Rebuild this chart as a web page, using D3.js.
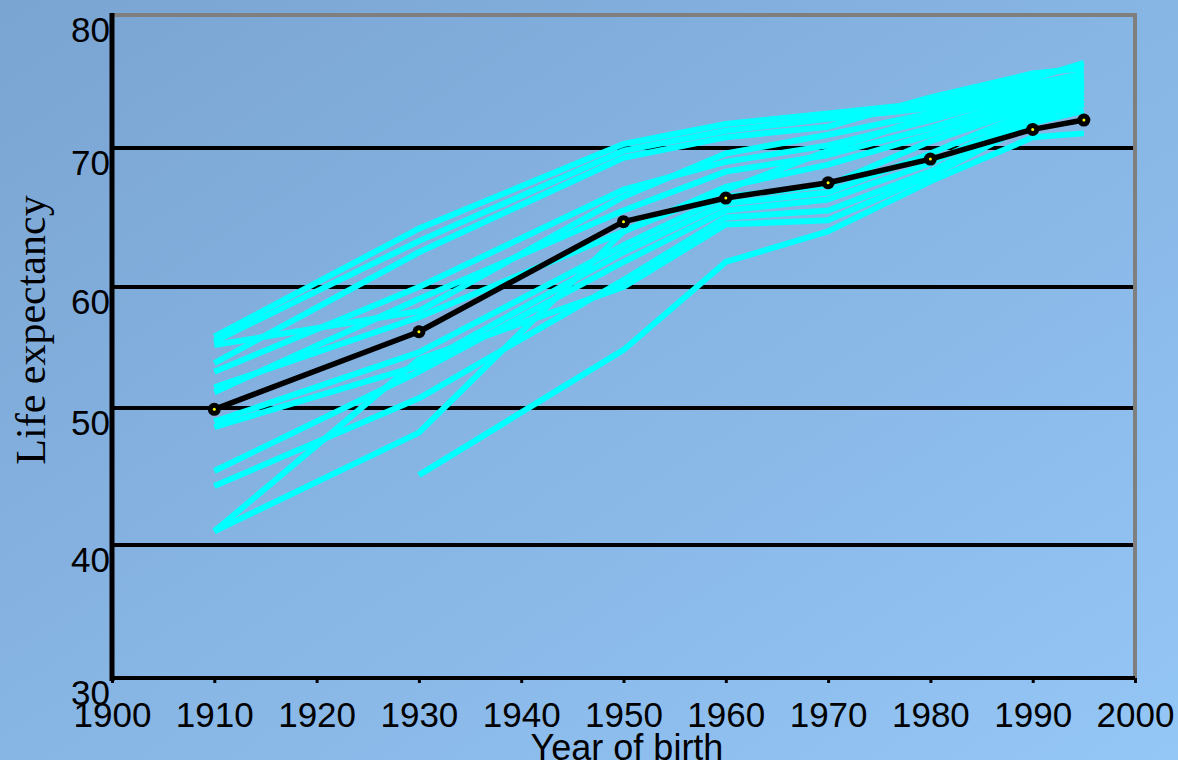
<!DOCTYPE html>
<html>
<head>
<meta charset="utf-8">
<script src="https://cdn.jsdelivr.net/npm/d3@7"></script>
<style>
  html, body { margin: 0; padding: 0; overflow: hidden; }
  svg { display: block; }
</style>
</head>
<body>
<svg id="chart" width="1178" height="760"></svg>
<script>
// ---- Data ----
const years = [1910, 1930, 1950, 1960, 1970, 1980, 1990, 1995];
const xTicks = [1900, 1910, 1920, 1930, 1940, 1950, 1960, 1970, 1980, 1990, 2000];
const yTicks = [30, 40, 50, 60, 70, 80];
const gridValues = [40, 50, 60, 70];

// Average (black) series
const averageSeries = [49.9, 56.3, 64.7, 66.4, 67.5, 69.2, 71.4, 72.1];

// Individual country series (cyan)
const countrySeries = [
  [55.9, 64.2, 70.3, 71.8, 72.6, 73.4, 75.2, 76.4],
  [55.5, 63.3, 69.8, 71.3, 72.2, 73.0, 74.8, 75.6],
  [53.7, 62.5, 69.3, 70.8, 71.6, 73.8, 75.6, 76.0],
  [55.2, 58.0, 66.5, 69.6, 71.0, 72.6, 74.5, 75.3],
  [53.0, 60.0, 67.0, 69.0, 70.2, 72.1, 74.2, 75.0],
  [51.3, 59.0, 65.5, 68.3, 69.5, 71.5, 73.9, 74.8],
  [51.7, 57.5, 64.0, 67.2, 68.8, 71.0, 73.5, 74.5],
  [49.0, 54.6, 63.0, 66.5, 67.3, 70.5, 73.1, 74.2],
  [48.6, 53.5, 62.5, 66.0, 66.8, 69.6, 72.8, 73.9],
  [45.4, 53.0, 61.8, 65.5, 66.3, 68.9, 72.5, 73.6],
  [44.3, 50.8, 60.5, 65.0, 65.5, 68.3, 72.1, 73.3],
  [41.0, 48.2, 64.0, 67.0, 69.8, 72.4, 74.0, 74.7],
  [41.0, 54.0, 60.0, 64.5, 64.8, 68.0, 71.9, 72.8],
  [null, 45.1, 54.8, 61.8, 64.0, 67.6, 70.8, 71.1]
];

const xTitle = "Year of birth";
const yTitle = "Life expectancy";

// ---- Layout ----
const svg = d3.select("#chart");
const W = 1178, H = 760;
const plotLeft = 112, plotRight = 1135, plotTop = 15, plotBottom = 678;

const defs = svg.append("defs");
const grad = defs.append("linearGradient")
  .attr("id", "bg").attr("x1", "0%").attr("y1", "0%").attr("x2", "100%").attr("y2", "100%");
grad.append("stop").attr("offset", "0%").attr("stop-color", "#7aa4d2");
grad.append("stop").attr("offset", "100%").attr("stop-color", "#94c6f6");
svg.append("rect").attr("width", W).attr("height", H).attr("fill", "url(#bg)");

const x = d3.scaleLinear().domain([1900, 2000]).range([plotLeft, plotRight]);
// The reference's gridlines are slightly unevenly spaced; follow them
const y = d3.scaleLinear().domain(yTicks).range([678, 545, 408, 287, 148, 15]);

// Gray frame (top and right)
svg.append("line").attr("x1", plotLeft).attr("x2", plotRight).attr("y1", y(80)).attr("y2", y(80))
  .attr("stroke", "#7f7f7f").attr("stroke-width", 4);
svg.append("line").attr("x1", plotRight).attr("x2", plotRight).attr("y1", y(80) - 2).attr("y2", plotBottom)
  .attr("stroke", "#7f7f7f").attr("stroke-width", 4);

// Gridlines
svg.append("g").selectAll("line").data(gridValues).join("line")
  .attr("x1", plotLeft).attr("x2", plotRight - 2)
  .attr("y1", d => y(d)).attr("y2", d => y(d))
  .attr("stroke", "#000").attr("stroke-width", 4);

// Cyan lines
const line = d3.line()
  .defined(d => d.v != null)
  .x(d => x(d.year)).y(d => y(d.v));

svg.append("g").selectAll("path").data(countrySeries).join("path")
  .attr("d", s => line(s.map((v, i) => ({ year: years[i], v }))))
  .attr("fill", "none").attr("stroke", "#00ffff").attr("stroke-width", 6)
  .attr("stroke-linejoin", "round");

// Average line
const avg = averageSeries.map((v, i) => ({ year: years[i], v }));
svg.append("path").attr("d", line(avg))
  .attr("fill", "none").attr("stroke", "#000").attr("stroke-width", 5.5)
  .attr("stroke-linejoin", "round");
svg.append("g").selectAll("circle").data(avg).join("circle")
  .attr("cx", d => x(d.year)).attr("cy", d => y(d.v)).attr("r", 6.5).attr("fill", "#000");
svg.append("g").selectAll("circle").data(avg).join("circle")
  .attr("cx", d => x(d.year)).attr("cy", d => y(d.v)).attr("r", 1.5).attr("fill", "#ffff00");

// Axes
const xAxis = d3.axisBottom(x).tickValues(xTicks).tickFormat(d3.format("d")).tickSize(5).tickPadding(8);
const gx = svg.append("g").attr("transform", `translate(0,${plotBottom})`).call(xAxis);
gx.select(".domain").remove();
gx.selectAll(".tick line").attr("stroke", "#000").attr("stroke-width", 3);
gx.selectAll(".tick text")
  .attr("y", 49).attr("dy", null)
  .attr("font-family", "'Liberation Sans', Arial, sans-serif").attr("font-size", 35).attr("fill", "#000");

const yAxis = d3.axisLeft(y).tickValues(yTicks).tickFormat(d3.format("d")).tickSize(0).tickPadding(3);
const gy = svg.append("g").attr("transform", `translate(${plotLeft},0)`).call(yAxis);
gy.select(".domain").remove();
gy.selectAll(".tick text")
  .attr("x", -2).attr("dy", null).attr("y", 26)
  .attr("font-family", "'Liberation Sans', Arial, sans-serif").attr("font-size", 35).attr("fill", "#000");

svg.append("line").attr("x1", plotLeft).attr("x2", plotLeft).attr("y1", plotTop - 2).attr("y2", plotBottom + 3)
  .attr("stroke", "#000").attr("stroke-width", 5);
svg.append("line").attr("x1", plotLeft - 2).attr("x2", plotRight).attr("y1", plotBottom).attr("y2", plotBottom)
  .attr("stroke", "#000").attr("stroke-width", 4);

// Titles
svg.append("text").attr("x", 627).attr("y", 760).attr("text-anchor", "middle")
  .attr("font-family", "'Liberation Sans', Arial, sans-serif").attr("font-size", 36).attr("fill", "#000")
  .text(xTitle);
svg.append("text").attr("transform", "translate(45,330) rotate(-90)").attr("text-anchor", "middle")
  .attr("font-family", "'Liberation Serif', 'Times New Roman', serif").attr("font-size", 42).attr("fill", "#000")
  .text(yTitle);
</script>
</body>
</html>
